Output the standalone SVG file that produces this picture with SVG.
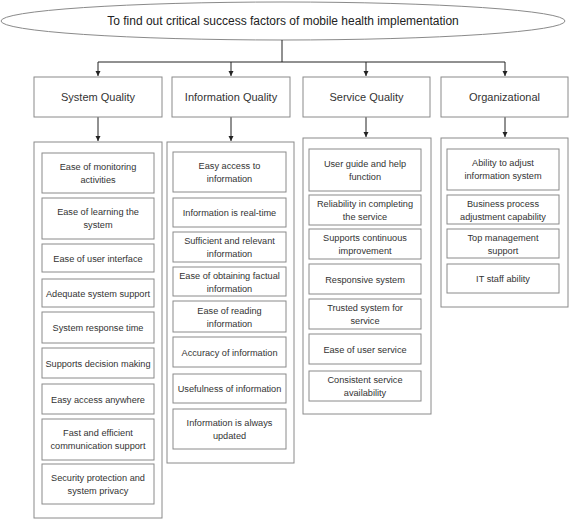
<svg xmlns="http://www.w3.org/2000/svg" width="569" height="520" viewBox="0 0 569 520">
<defs>
<marker id="ah" markerWidth="6" markerHeight="6" refX="5" refY="3" orient="auto" markerUnits="userSpaceOnUse">
<path d="M0,0.5 L5,3 L0,5.5 Z" fill="#222"/>
</marker>
<style>
.box{fill:#fff;stroke:#8a8a8a;stroke-width:1}
.cont{fill:#fff;stroke:#8a8a8a;stroke-width:1}
.t{font-family:"Liberation Sans",Arial,sans-serif;font-size:9.2px;fill:#333;text-anchor:middle}
.h{font-family:"Liberation Sans",Arial,sans-serif;font-size:11px;fill:#333;text-anchor:middle}
.title{font-family:"Liberation Sans",Arial,sans-serif;font-size:12px;fill:#222;text-anchor:middle}
.c{fill:none;stroke:#222;stroke-width:1}
</style>
</defs>
<rect width="569" height="520" fill="#fff"/>

<g id="goal">
<ellipse cx="283" cy="21" rx="282" ry="19" class="box"/>
<text x="283" y="25" class="title">To find out critical success factors of mobile health implementation</text>
</g>

<g id="connectors">
<path class="c" d="M282,40 V62 M98,62 H505"/>
<path class="c" d="M98,62 V76" marker-end="url(#ah)"/>
<path class="c" d="M231,62 V76" marker-end="url(#ah)"/>
<path class="c" d="M366,62 V76" marker-end="url(#ah)"/>
<path class="c" d="M505,62 V76" marker-end="url(#ah)"/>
<path class="c" d="M98,117 V141" marker-end="url(#ah)"/>
<path class="c" d="M231,117 V141" marker-end="url(#ah)"/>
<path class="c" d="M366,117 V137" marker-end="url(#ah)"/>
<path class="c" d="M505,117 V137" marker-end="url(#ah)"/>
</g>

<g id="h-system"><rect x="34" y="77" width="128" height="40" class="box"/><text x="98" y="101" class="h">System Quality</text></g>
<g id="h-info"><rect x="172" y="77" width="118" height="40" class="box"/><text x="231" y="101" class="h">Information Quality</text></g>
<g id="h-service"><rect x="303" y="77" width="127" height="40" class="box"/><text x="366.5" y="101" class="h">Service Quality</text></g>
<g id="h-org"><rect x="441" y="77" width="127" height="40" class="box"/><text x="504.5" y="101" class="h">Organizational</text></g>

<g id="system">
<rect x="34" y="142" width="128" height="376" class="cont"/>
<g id="s1"><rect x="42" y="153" width="112" height="40" class="box"/><text x="98" y="170" class="t">Ease of monitoring</text><text x="98" y="183" class="t">activities</text></g>
<g id="s2"><rect x="42" y="198" width="112" height="41" class="box"/><text x="98" y="215" class="t">Ease of learning the</text><text x="98" y="228" class="t">system</text></g>
<g id="s3"><rect x="42" y="244" width="112" height="28" class="box"/><text x="98" y="261.5" class="t">Ease of user interface</text></g>
<g id="s4"><rect x="42" y="279" width="112" height="28" class="box"/><text x="98" y="296.5" class="t">Adequate system support</text></g>
<g id="s5"><rect x="42" y="312" width="112" height="31" class="box"/><text x="98" y="331" class="t">System response time</text></g>
<g id="s6"><rect x="42" y="348" width="112" height="30" class="box"/><text x="98" y="366.5" class="t">Supports decision making</text></g>
<g id="s7"><rect x="42" y="384" width="112" height="30" class="box"/><text x="98" y="402.5" class="t">Easy access anywhere</text></g>
<g id="s8"><rect x="42" y="419" width="112" height="41" class="box"/><text x="98" y="436" class="t">Fast and efficient</text><text x="98" y="449" class="t">communication support</text></g>
<g id="s9"><rect x="42" y="464" width="112" height="40" class="box"/><text x="98" y="481" class="t">Security protection and</text><text x="98" y="494" class="t">system privacy</text></g>
</g>

<g id="info">
<rect x="167" y="142" width="127" height="321" class="cont"/>
<g id="i1"><rect x="173" y="152" width="113" height="40" class="box"/><text x="229.5" y="169" class="t">Easy access to</text><text x="229.5" y="182" class="t">information</text></g>
<g id="i2"><rect x="173" y="198" width="113" height="29" class="box"/><text x="229.5" y="216" class="t">Information is real-time</text></g>
<g id="i3"><rect x="173" y="232" width="113" height="30" class="box"/><text x="229.5" y="244" class="t">Sufficient and relevant</text><text x="229.5" y="257" class="t">information</text></g>
<g id="i4"><rect x="173" y="267" width="113" height="29" class="box"/><text x="229.5" y="279" class="t">Ease of obtaining factual</text><text x="229.5" y="292" class="t">information</text></g>
<g id="i5"><rect x="173" y="301" width="113" height="31" class="box"/><text x="229.5" y="314" class="t">Ease of reading</text><text x="229.5" y="327" class="t">information</text></g>
<g id="i6"><rect x="173" y="337" width="113" height="30" class="box"/><text x="229.5" y="355.5" class="t">Accuracy of information</text></g>
<g id="i7"><rect x="173" y="374" width="113" height="29" class="box"/><text x="229.5" y="392" class="t">Usefulness of information</text></g>
<g id="i8"><rect x="173" y="409" width="113" height="40" class="box"/><text x="229.5" y="426" class="t">Information is always</text><text x="229.5" y="439" class="t">updated</text></g>
</g>

<g id="service">
<rect x="303" y="138" width="128" height="276" class="cont"/>
<g id="v1"><rect x="309" y="149" width="112" height="42" class="box"/><text x="365" y="167" class="t">User guide and help</text><text x="365" y="180" class="t">function</text></g>
<g id="v2"><rect x="309" y="195" width="112" height="30" class="box"/><text x="365" y="207" class="t">Reliability in completing</text><text x="365" y="220" class="t">the service</text></g>
<g id="v3"><rect x="309" y="229" width="112" height="30" class="box"/><text x="365" y="241" class="t">Supports continuous</text><text x="365" y="254" class="t">improvement</text></g>
<g id="v4"><rect x="309" y="264" width="112" height="30" class="box"/><text x="365" y="282.5" class="t">Responsive system</text></g>
<g id="v5"><rect x="309" y="299" width="112" height="30" class="box"/><text x="365" y="311" class="t">Trusted system for</text><text x="365" y="324" class="t">service</text></g>
<g id="v6"><rect x="309" y="334" width="112" height="30" class="box"/><text x="365" y="352.5" class="t">Ease of user service</text></g>
<g id="v7"><rect x="309" y="371" width="112" height="30" class="box"/><text x="365" y="383" class="t">Consistent service</text><text x="365" y="396" class="t">availability</text></g>
</g>

<g id="org">
<rect x="441" y="138" width="127" height="169" class="cont"/>
<g id="o1"><rect x="447" y="149" width="112" height="41" class="box"/><text x="503" y="166" class="t">Ability to adjust</text><text x="503" y="179" class="t">information system</text></g>
<g id="o2"><rect x="447" y="195" width="112" height="29" class="box"/><text x="503" y="206.5" class="t">Business process</text><text x="503" y="219.5" class="t">adjustment capability</text></g>
<g id="o3"><rect x="447" y="229" width="112" height="29" class="box"/><text x="503" y="240.5" class="t">Top management</text><text x="503" y="253.5" class="t">support</text></g>
<g id="o4"><rect x="447" y="264" width="112" height="29" class="box"/><text x="503" y="282" class="t">IT staff ability</text></g>
</g>
</svg>
